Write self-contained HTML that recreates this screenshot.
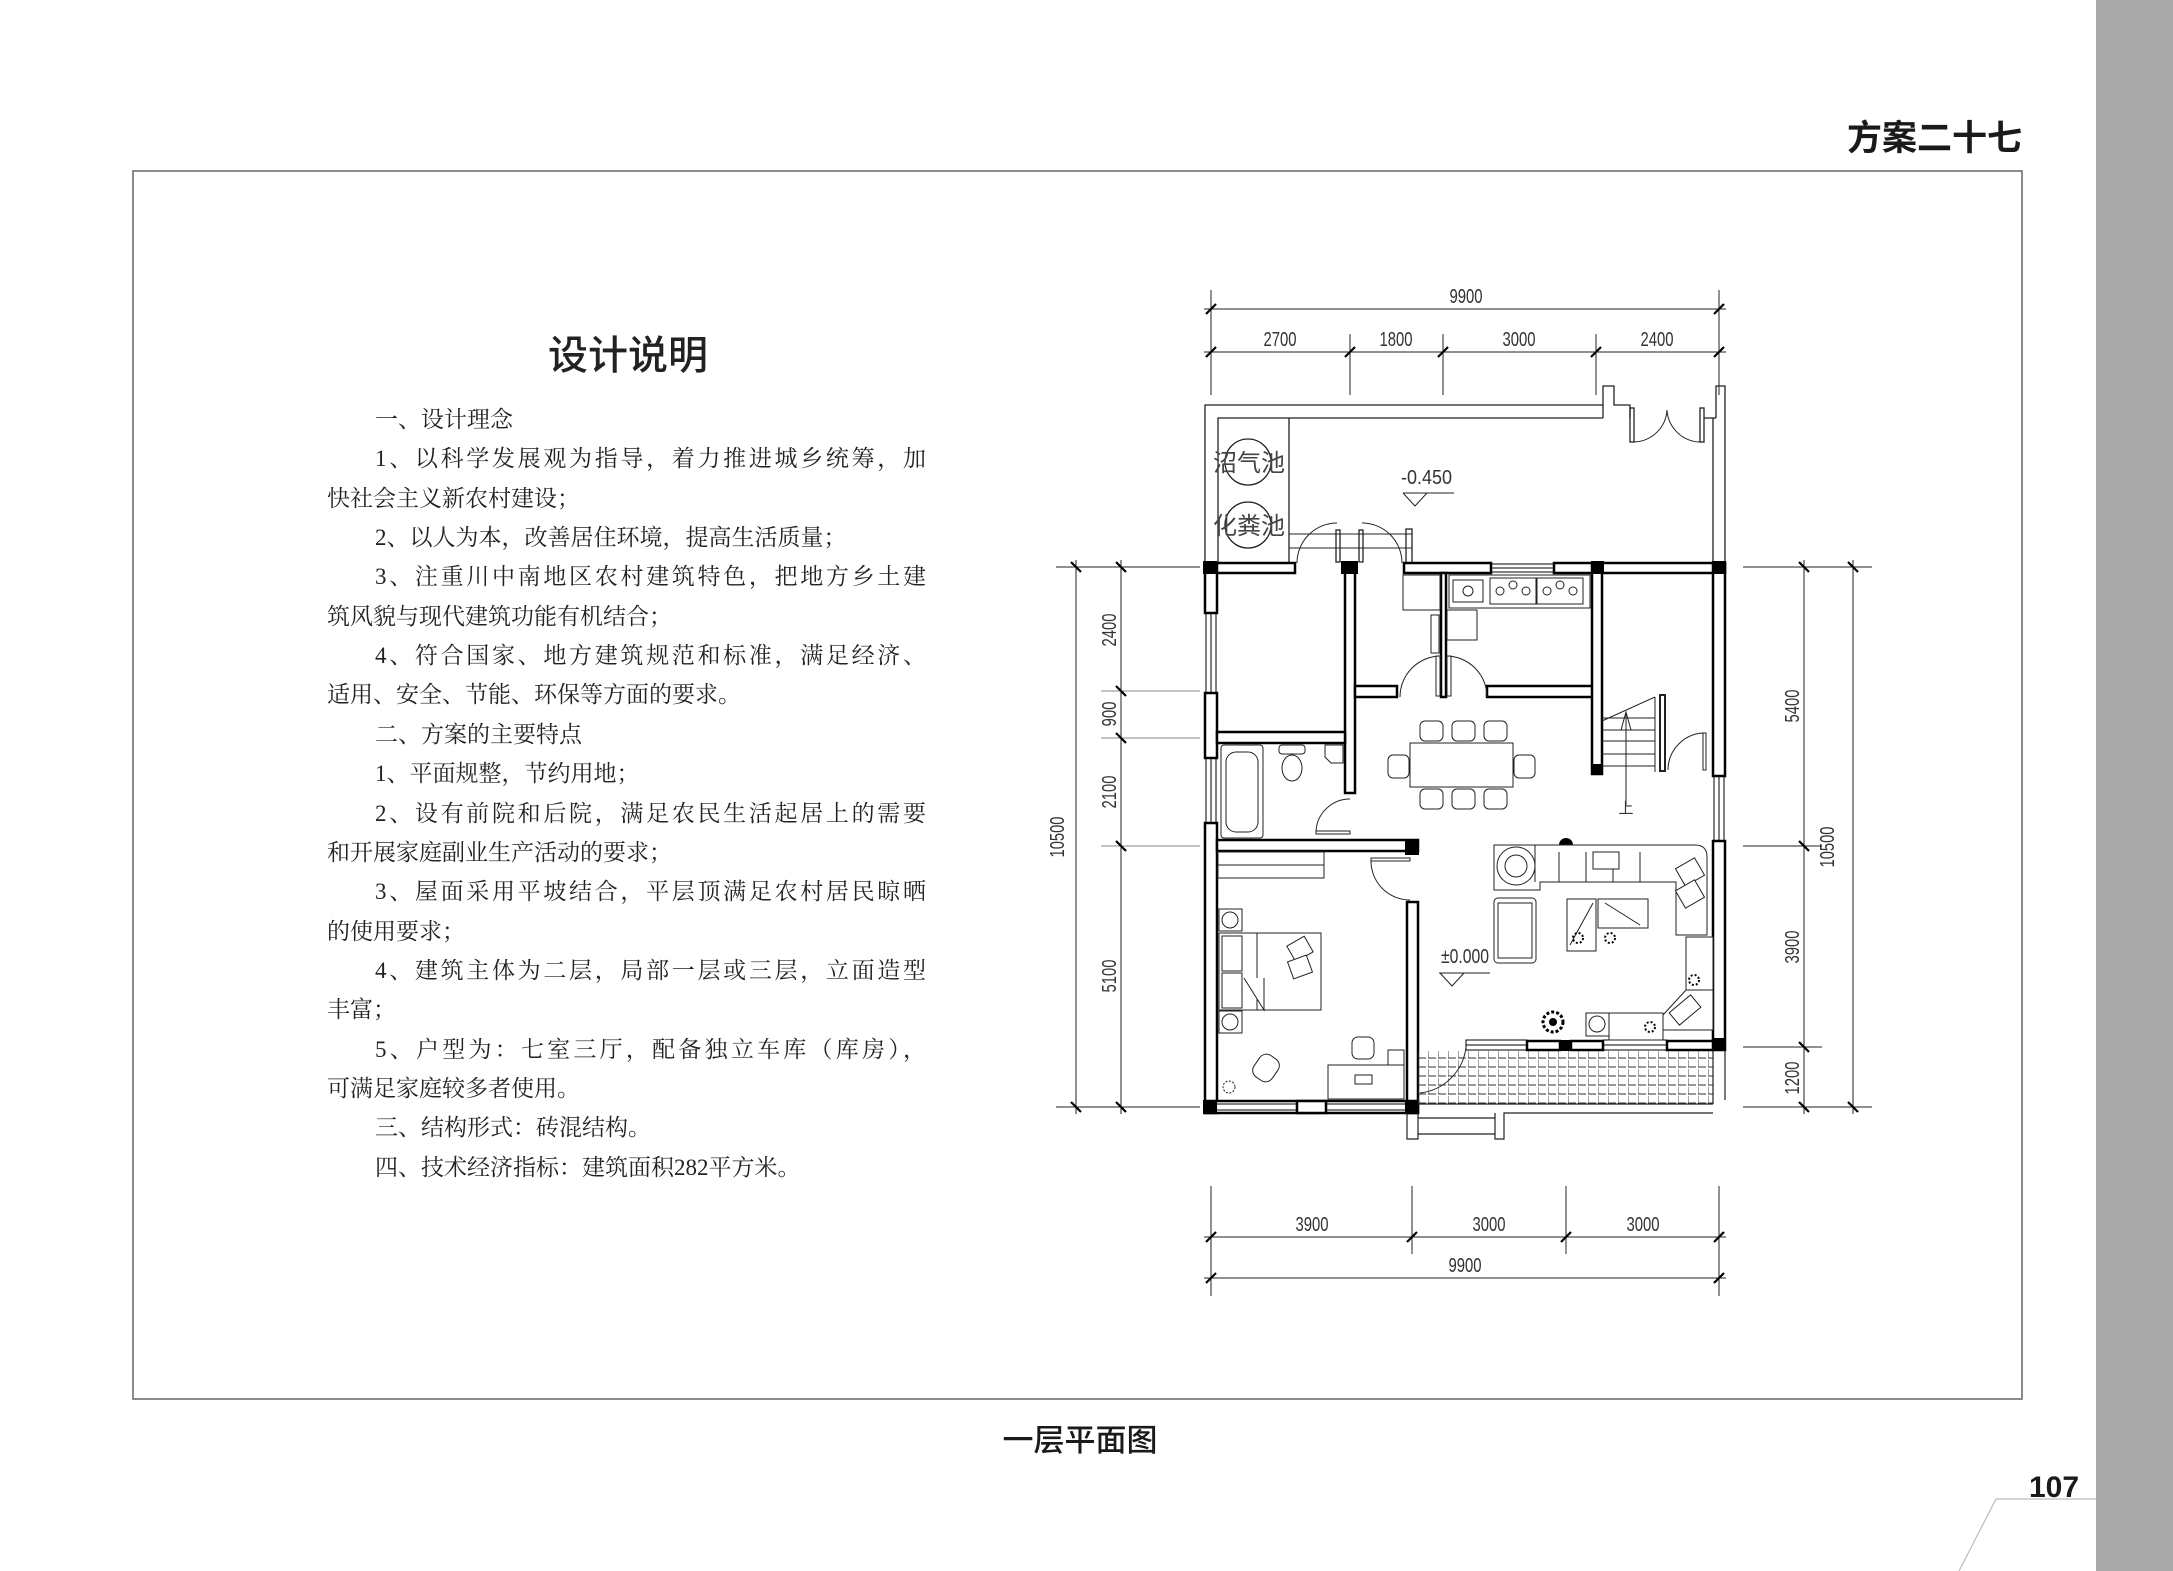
<!DOCTYPE html>
<html><head><meta charset="utf-8"><style>
html,body{margin:0;padding:0;background:#fff;}
svg{display:block;}
.d{font-family:"Liberation Sans Narrow","Liberation Sans",sans-serif;font-size:20px;fill:#333;}
.b{font-family:"Liberation Serif","Noto Serif CJK SC",serif;font-size:23px;fill:#222;}
</style></head><body>
<svg width="2173" height="1571" viewBox="0 0 2173 1571" xmlns="http://www.w3.org/2000/svg">
<rect x="0" y="0" width="2173" height="1571" fill="#fff"/>
<rect x="2096" y="0" width="77" height="1571" fill="#aaaaaa"/>
<rect x="133" y="171" width="1889" height="1228" fill="none" stroke="#666" stroke-width="1.5"/>
<text x="2022" y="150" text-anchor="end" font-family="'Liberation Sans','Noto Sans CJK SC',sans-serif" font-weight="bold" font-size="35" fill="#1a1a1a">方案二十七</text>
<text x="1080" y="1451" text-anchor="middle" font-family="'Liberation Sans','Noto Sans CJK SC',sans-serif" font-weight="500" font-size="31" fill="#1a1a1a">一层平面图</text>
<text x="2054" y="1497" text-anchor="middle" font-family="'Liberation Sans',sans-serif" font-weight="bold" font-size="30" fill="#1a1a1a">107</text>
<polyline points="2096,1499 1996,1499 1959,1571" fill="none" stroke="#bbb" stroke-width="1.2"/>

<!-- Description -->
<text x="628" y="369" text-anchor="middle" font-family="'Liberation Sans','Noto Sans CJK SC',sans-serif" font-weight="500" font-size="40" fill="#222">设计说明</text>
<g class="b">
<text x="375" y="427">一、设计理念</text>
<text x="375" y="466" textLength="551" lengthAdjust="spacing">1、以科学发展观为指导，着力推进城乡统筹，加</text>
<text x="327" y="506">快社会主义新农村建设；</text>
<text x="375" y="545">2、以人为本，改善居住环境，提高生活质量；</text>
<text x="375" y="584" textLength="551" lengthAdjust="spacing">3、注重川中南地区农村建筑特色，把地方乡土建</text>
<text x="327" y="624">筑风貌与现代建筑功能有机结合；</text>
<text x="375" y="663" textLength="551" lengthAdjust="spacing">4、符合国家、地方建筑规范和标准，满足经济、</text>
<text x="327" y="702">适用、安全、节能、环保等方面的要求。</text>
<text x="375" y="742">二、方案的主要特点</text>
<text x="375" y="781">1、平面规整，节约用地；</text>
<text x="375" y="821" textLength="551" lengthAdjust="spacing">2、设有前院和后院，满足农民生活起居上的需要</text>
<text x="327" y="860">和开展家庭副业生产活动的要求；</text>
<text x="375" y="899" textLength="551" lengthAdjust="spacing">3、屋面采用平坡结合，平层顶满足农村居民晾晒</text>
<text x="327" y="939">的使用要求；</text>
<text x="375" y="978" textLength="551" lengthAdjust="spacing">4、建筑主体为二层，局部一层或三层，立面造型</text>
<text x="327" y="1017">丰富；</text>
<text x="375" y="1057" textLength="551" lengthAdjust="spacing">5、户型为：七室三厅，配备独立车库（库房），</text>
<text x="327" y="1096">可满足家庭较多者使用。</text>
<text x="375" y="1135">三、结构形式：砖混结构。</text>
<text x="375" y="1175">四、技术经济指标：建筑面积282平方米。</text>
</g>

<!-- Dimensions -->
<g stroke="#222" stroke-width="1" fill="none">
 <line x1="1211" y1="290" x2="1211" y2="395"/><line x1="1719" y1="290" x2="1719" y2="395"/>
 <line x1="1350" y1="334" x2="1350" y2="395"/><line x1="1443" y1="334" x2="1443" y2="395"/><line x1="1596" y1="334" x2="1596" y2="395"/>
 <line x1="1204" y1="309" x2="1726" y2="309"/><line x1="1204" y1="352" x2="1726" y2="352"/>
 <line x1="1211" y1="1186" x2="1211" y2="1296"/><line x1="1719" y1="1186" x2="1719" y2="1296"/>
 <line x1="1412" y1="1186" x2="1412" y2="1254"/><line x1="1566" y1="1186" x2="1566" y2="1254"/>
 <line x1="1204" y1="1237" x2="1726" y2="1237"/><line x1="1204" y1="1278" x2="1726" y2="1278"/>
 <line x1="1056" y1="567" x2="1200" y2="567"/><line x1="1056" y1="1107" x2="1200" y2="1107"/>
 <line x1="1101" y1="691" x2="1200" y2="691" stroke="#888"/><line x1="1101" y1="738" x2="1200" y2="738" stroke="#888"/><line x1="1101" y1="846" x2="1200" y2="846" stroke="#888"/>
 <line x1="1076" y1="560" x2="1076" y2="1114"/><line x1="1121" y1="560" x2="1121" y2="1114"/>
 <line x1="1743" y1="567" x2="1872" y2="567"/><line x1="1743" y1="1107" x2="1872" y2="1107"/>
 <line x1="1743" y1="846" x2="1822" y2="846"/><line x1="1743" y1="1047" x2="1822" y2="1047"/>
 <line x1="1804" y1="560" x2="1804" y2="1114"/><line x1="1853" y1="560" x2="1853" y2="1114"/>
</g>
<g stroke="#000" stroke-width="2.2">
 <line x1="1206" y1="314" x2="1216" y2="304"/><line x1="1714" y1="314" x2="1724" y2="304"/>
 <line x1="1206" y1="357" x2="1216" y2="347"/><line x1="1345" y1="357" x2="1355" y2="347"/><line x1="1438" y1="357" x2="1448" y2="347"/><line x1="1591" y1="357" x2="1601" y2="347"/><line x1="1714" y1="357" x2="1724" y2="347"/>
 <line x1="1206" y1="1242" x2="1216" y2="1232"/><line x1="1407" y1="1242" x2="1417" y2="1232"/><line x1="1561" y1="1242" x2="1571" y2="1232"/><line x1="1714" y1="1242" x2="1724" y2="1232"/>
 <line x1="1206" y1="1283" x2="1216" y2="1273"/><line x1="1714" y1="1283" x2="1724" y2="1273"/>
 <line x1="1071" y1="562" x2="1081" y2="572"/><line x1="1071" y1="1102" x2="1081" y2="1112"/>
 <line x1="1116" y1="562" x2="1126" y2="572"/><line x1="1116" y1="686" x2="1126" y2="696"/><line x1="1116" y1="733" x2="1126" y2="743"/><line x1="1116" y1="841" x2="1126" y2="851"/><line x1="1116" y1="1102" x2="1126" y2="1112"/>
 <line x1="1799" y1="562" x2="1809" y2="572"/><line x1="1799" y1="841" x2="1809" y2="851"/><line x1="1799" y1="1042" x2="1809" y2="1052"/><line x1="1799" y1="1102" x2="1809" y2="1112"/>
 <line x1="1848" y1="562" x2="1858" y2="572"/><line x1="1848" y1="1102" x2="1858" y2="1112"/>
</g>
<g class="d" text-anchor="middle" lengthAdjust="spacingAndGlyphs">
 <text x="1466" y="303" textLength="33" lengthAdjust="spacingAndGlyphs">9900</text>
 <text x="1280" y="346" textLength="33" lengthAdjust="spacingAndGlyphs">2700</text><text x="1396" y="346" textLength="33" lengthAdjust="spacingAndGlyphs">1800</text><text x="1519" y="346" textLength="33" lengthAdjust="spacingAndGlyphs">3000</text><text x="1657" y="346" textLength="33" lengthAdjust="spacingAndGlyphs">2400</text>
 <text x="1312" y="1231" textLength="33" lengthAdjust="spacingAndGlyphs">3900</text><text x="1489" y="1231" textLength="33" lengthAdjust="spacingAndGlyphs">3000</text><text x="1643" y="1231" textLength="33" lengthAdjust="spacingAndGlyphs">3000</text><text x="1465" y="1272" textLength="33" lengthAdjust="spacingAndGlyphs">9900</text>
 <text transform="translate(1064,837) rotate(-90)" textLength="41" lengthAdjust="spacingAndGlyphs">10500</text>
 <text transform="translate(1116,630) rotate(-90)" textLength="33" lengthAdjust="spacingAndGlyphs">2400</text>
 <text transform="translate(1116,714) rotate(-90)" textLength="25" lengthAdjust="spacingAndGlyphs">900</text>
 <text transform="translate(1116,792) rotate(-90)" textLength="33" lengthAdjust="spacingAndGlyphs">2100</text>
 <text transform="translate(1116,976) rotate(-90)" textLength="33" lengthAdjust="spacingAndGlyphs">5100</text>
 <text transform="translate(1799,706) rotate(-90)" textLength="33" lengthAdjust="spacingAndGlyphs">5400</text>
 <text transform="translate(1834,847) rotate(-90)" textLength="41" lengthAdjust="spacingAndGlyphs">10500</text>
 <text transform="translate(1799,947) rotate(-90)" textLength="33" lengthAdjust="spacingAndGlyphs">3900</text>
 <text transform="translate(1799,1078) rotate(-90)" textLength="33" lengthAdjust="spacingAndGlyphs">1200</text>
</g>

<!-- Yard -->
<g stroke="#222" stroke-width="1.3" fill="none">
 <polyline points="1205,563 1205,405 1603,405"/>
 <polyline points="1218,563 1218,418 1603,418"/>
 <polyline points="1603,418 1603,386 1614,386 1614,405 1630,405 1630,418"/>
 <polyline points="1716,418 1716,386 1725,386 1725,563"/>
 <line x1="1704" y1="418" x2="1716" y2="418"/>
 <line x1="1713" y1="418" x2="1713" y2="563"/>
 <line x1="1289" y1="418" x2="1289" y2="563"/>
 <rect x="1630" y="408" width="4" height="34"/><rect x="1700" y="408" width="4" height="34"/>
 <path d="M1634,442 A34,34 0 0 0 1667,410" stroke-width="1"/>
 <path d="M1700,442 A34,34 0 0 1 1667,410" stroke-width="1"/>
 <circle cx="1248" cy="462" r="23"/><circle cx="1248" cy="525" r="23"/>
 <line x1="1289" y1="534" x2="1412" y2="534" stroke-width="1"/><line x1="1289" y1="548" x2="1412" y2="548" stroke-width="1"/>
 <rect x="1406" y="529" width="6" height="34"/>
 <rect x="1336" y="530" width="4" height="32"/><rect x="1359" y="530" width="4" height="32"/>
 <path d="M1297,563 A40,40 0 0 1 1337,523" stroke-width="1"/>
 <path d="M1402,563 A40,40 0 0 0 1362,523" stroke-width="1"/>
 <line x1="1403" y1="493" x2="1454" y2="493" stroke-width="1"/>
 <polyline points="1403,493 1415,506 1427,493" stroke-width="1"/>
</g>
<g font-family="'Liberation Sans','Noto Sans CJK SC',sans-serif" font-size="24" fill="#444" text-anchor="middle">
 <text x="1249" y="471">沼气池</text><text x="1249" y="534">化粪池</text>
</g>
<text x="1401" y="484" class="d" textLength="51" lengthAdjust="spacingAndGlyphs">-0.450</text>

<!-- Walls -->
<g fill="#fff" stroke="#000" stroke-width="2.5">
 <rect x="1205" y="563" width="90" height="10"/>
 <rect x="1404" y="563" width="87" height="10"/>
 <rect x="1554" y="563" width="171" height="10"/>
 <rect x="1205" y="563" width="12" height="50"/>
 <rect x="1205" y="693" width="12" height="65"/>
 <rect x="1205" y="823" width="12" height="290"/>
 <rect x="1345" y="563" width="10" height="230"/>
 <rect x="1217" y="732" width="128" height="11"/>
 <rect x="1217" y="840" width="201" height="11"/>
 <rect x="1407" y="902" width="11" height="211"/>
 <rect x="1205" y="1101" width="213" height="12"/>
 <rect x="1441" y="573" width="5" height="124"/>
 <rect x="1355" y="686" width="42" height="11"/>
 <rect x="1487" y="686" width="111" height="11"/>
 <rect x="1592" y="563" width="10" height="211"/>
 <rect x="1713" y="563" width="12" height="213"/>
 <rect x="1713" y="841" width="12" height="209"/>
</g>
<g fill="none" stroke="#000" stroke-width="1">
 <rect x="1491" y="564" width="63" height="8"/><line x1="1491" y1="568" x2="1554" y2="568"/>
 <rect x="1206" y="613" width="10" height="80"/><line x1="1211" y1="613" x2="1211" y2="693"/>
 <rect x="1206" y="758" width="10" height="65"/><line x1="1211" y1="758" x2="1211" y2="823"/>
 <rect x="1714" y="776" width="10" height="65"/><line x1="1719" y1="776" x2="1719" y2="841"/>
 <line x1="1217" y1="1104" x2="1407" y2="1104"/><line x1="1217" y1="1110" x2="1407" y2="1110"/>
</g>
<g fill="#fff" stroke="#000" stroke-width="2.5">
 <rect x="1297" y="1101" width="29" height="12"/>
</g>
<g fill="#000">
 <rect x="1203" y="561" width="14" height="13"/>
 <rect x="1341" y="561" width="17" height="13"/>
 <rect x="1591" y="561" width="13" height="13"/>
 <rect x="1712" y="561" width="14" height="13"/>
 <rect x="1591" y="764" width="12" height="11"/>
 <rect x="1405" y="839" width="14" height="16"/>
 <rect x="1203" y="1100" width="14" height="14"/>
 <rect x="1405" y="1100" width="14" height="14"/>
 <rect x="1712" y="1038" width="14" height="13"/>
 <rect x="1560" y="1040" width="11" height="11"/>
 <circle cx="1566" cy="845" r="7"/>
</g>
<g fill="#fff" stroke="#000" stroke-width="1">
 <rect x="1466" y="1040" width="61" height="10"/><line x1="1466" y1="1045" x2="1527" y2="1045"/>
 <rect x="1603" y="1040" width="64" height="10"/><line x1="1603" y1="1045" x2="1667" y2="1045"/>
</g>
<g fill="#fff" stroke="#000" stroke-width="2.5">
 <rect x="1527" y="1041" width="33" height="9"/>
 <rect x="1571" y="1041" width="32" height="9"/>
 <rect x="1667" y="1041" width="46" height="9"/>
</g>
<defs>
 <pattern id="tile" x="1418" y="1051" width="10" height="9" patternUnits="userSpaceOnUse">
  <path d="M0,0 V7 H8" fill="none" stroke="#333" stroke-width="0.9"/>
 </pattern>
</defs>
<rect x="1418" y="1051" width="295" height="53" fill="url(#tile)"/>
<g stroke="#222" stroke-width="1.2" fill="none">
 <line x1="1713" y1="1050" x2="1713" y2="1104"/>
 <line x1="1725" y1="1050" x2="1725" y2="1100"/>
 <line x1="1418" y1="1104" x2="1713" y2="1104"/>
 <polyline points="1418,1113 1418,1139 1407,1139 1407,1113"/>
 <polyline points="1495,1113 1495,1139 1504,1139 1504,1113 1713,1113"/>
 <line x1="1418" y1="1118" x2="1495" y2="1118"/><line x1="1418" y1="1134" x2="1495" y2="1134"/>
 <path d="M1420,1093 A52,52 0 0 0 1466,1047" stroke-width="1"/>
</g>

<g fill="none" stroke="#222" stroke-width="1">
 <path d="M1400,697 A41,41 0 0 1 1441,656"/><rect x="1436" y="656" width="4" height="40"/>
 <path d="M1487,697 A41,41 0 0 0 1446,656"/><rect x="1447" y="656" width="4" height="40"/>
 <path d="M1316,833 A34,34 0 0 1 1350,799"/><rect x="1316" y="831" width="34" height="3"/>
 <path d="M1371,860 A39,39 0 0 0 1410,900"/><rect x="1371" y="858" width="39" height="3"/>
 <path d="M1668,770 A37,37 0 0 1 1705,733"/><rect x="1703" y="733" width="3" height="37"/>
</g>

<g fill="#fff" stroke="#222" stroke-width="1">
 <rect x="1403" y="575" width="37" height="35"/>
 <rect x="1449" y="575" width="141" height="33"/>
 <rect x="1453" y="580" width="30" height="22"/><circle cx="1468" cy="591" r="5"/>
 <rect x="1490" y="578" width="46" height="26"/><rect x="1537" y="578" width="46" height="26"/>
 <circle cx="1500" cy="591" r="4"/><circle cx="1513" cy="585" r="4"/><circle cx="1526" cy="591" r="4"/>
 <circle cx="1547" cy="591" r="4"/><circle cx="1560" cy="585" r="4"/><circle cx="1573" cy="591" r="4"/>
 <rect x="1447" y="610" width="30" height="30"/>
 <rect x="1431" y="615" width="8" height="38"/>
</g>

<g fill="none" stroke="#222" stroke-width="1">
 <line x1="1602" y1="718" x2="1655" y2="718"/><line x1="1602" y1="730" x2="1655" y2="730"/>
 <line x1="1602" y1="741" x2="1655" y2="741"/><line x1="1602" y1="754" x2="1655" y2="754"/>
 <line x1="1602" y1="766" x2="1655" y2="766"/>
 <line x1="1602" y1="721" x2="1655" y2="697"/>
 <line x1="1655" y1="697" x2="1655" y2="772"/>
 <rect x="1660" y="695" width="5" height="76" fill="#fff" stroke-width="2"/>
 <line x1="1626" y1="805" x2="1626" y2="714"/>
 <polyline points="1621,730 1626,712 1631,730"/>
</g>
<text x="1626" y="813" text-anchor="middle" font-family="'Liberation Sans','Noto Sans CJK SC',sans-serif" font-size="15" fill="#333">上</text>

<g fill="#fff" stroke="#222" stroke-width="1">
 <rect x="1410" y="743" width="103" height="44"/>
 <rect x="1420" y="721" width="23" height="20" rx="5"/><rect x="1452" y="721" width="23" height="20" rx="5"/><rect x="1484" y="721" width="23" height="20" rx="5"/>
 <rect x="1420" y="789" width="23" height="20" rx="5"/><rect x="1452" y="789" width="23" height="20" rx="5"/><rect x="1484" y="789" width="23" height="20" rx="5"/>
 <rect x="1388" y="755" width="21" height="23" rx="5"/><rect x="1514" y="755" width="21" height="23" rx="5"/>
</g>

<g fill="#fff" stroke="#222" stroke-width="1">
 <rect x="1221" y="745" width="42" height="93" rx="3"/>
 <rect x="1226" y="752" width="32" height="80" rx="10"/>
 <rect x="1279" y="745" width="26" height="9" rx="3"/>
 <ellipse cx="1292" cy="768" rx="10" ry="13"/>
 <path d="M1325,745 H1343 V763 H1331 L1325,757 Z"/>
</g>

<g fill="#fff" stroke="#222" stroke-width="1">
 <rect x="1218" y="852" width="106" height="26"/>
 <line x1="1218" y1="865" x2="1324" y2="865"/>
 <rect x="1219" y="909" width="23" height="22"/><circle cx="1230" cy="920" r="8"/>
 <rect x="1219" y="1011" width="23" height="22"/><circle cx="1230" cy="1022" r="8"/>
 <rect x="1219" y="933" width="102" height="77"/>
 <rect x="1222" y="936" width="20" height="35"/><rect x="1222" y="973" width="20" height="35"/>
 <line x1="1257" y1="933" x2="1257" y2="1010"/>
 <polyline points="1244,978 1264,1010 1264,978"/>
 <rect x="1290" y="940" width="20" height="18" transform="rotate(-30 1300 949)"/>
 <rect x="1290" y="958" width="20" height="18" transform="rotate(-20 1300 967)"/>
 <rect x="1328" y="1065" width="76" height="34"/>
 <rect x="1388" y="1050" width="16" height="15"/>
 <rect x="1352" y="1037" width="22" height="22" rx="6"/>
 <rect x="1255" y="1055" width="22" height="26" rx="8" transform="rotate(35 1266 1068)"/>
 <rect x="1355" y="1075" width="17" height="9"/>
 <circle cx="1229" cy="1087" r="6" stroke-dasharray="2 1.5"/>
</g>

<g fill="#fff" stroke="#222" stroke-width="1">
 <path d="M1494,845 H1695 Q1707,845 1707,857 V935 H1676 V882 H1540 V890 H1494 Z"/>
 <line x1="1535" y1="845" x2="1535" y2="882"/>
 <line x1="1559" y1="852" x2="1559" y2="882"/><line x1="1586" y1="852" x2="1586" y2="882"/>
 <line x1="1613" y1="852" x2="1613" y2="882"/><line x1="1640" y1="852" x2="1640" y2="882"/>
 <circle cx="1516" cy="866" r="19"/><circle cx="1516" cy="866" r="11"/>
 <rect x="1593" y="852" width="26" height="17"/>
 <rect x="1679" y="862" width="22" height="20" transform="rotate(-30 1690 872)"/>
 <rect x="1679" y="884" width="22" height="20" transform="rotate(-30 1690 894)"/>
 <rect x="1494" y="898" width="42" height="65" rx="4"/>
 <rect x="1498" y="903" width="34" height="55"/>
 <rect x="1567" y="899" width="29" height="52"/>
 <rect x="1598" y="899" width="50" height="29"/>
 <line x1="1570" y1="945" x2="1593" y2="903"/><line x1="1605" y1="903" x2="1640" y2="925"/>
 <rect x="1686" y="937" width="27" height="53"/>
 <path d="M1713,990 H1686 L1663,1015 V1030 H1713 Z"/>
 <rect x="1671" y="1002" width="28" height="16" transform="rotate(-40 1685 1010)"/>
 <rect x="1586" y="1013" width="23" height="23"/><circle cx="1597" cy="1024" r="8"/>
 <rect x="1609" y="1013" width="54" height="27"/>
</g>
<g fill="#000">
 <circle cx="1553" cy="1022" r="10" fill="none" stroke="#000" stroke-width="3" stroke-dasharray="3 2"/>
 <circle cx="1553" cy="1022" r="4"/>
 <circle cx="1694" cy="980" r="5" fill="none" stroke="#000" stroke-width="2" stroke-dasharray="2 2"/>
 <circle cx="1650" cy="1027" r="5" fill="none" stroke="#000" stroke-width="2" stroke-dasharray="2 2"/>
 <circle cx="1610" cy="938" r="5" fill="none" stroke="#000" stroke-width="2" stroke-dasharray="2 2"/>
 <circle cx="1578" cy="938" r="5" fill="none" stroke="#000" stroke-width="2" stroke-dasharray="2 2"/>
</g>
<text x="1441" y="963" class="d" textLength="48" lengthAdjust="spacingAndGlyphs">±0.000</text>
<g fill="none" stroke="#222" stroke-width="1">
 <line x1="1439" y1="973" x2="1490" y2="973"/>
 <polyline points="1440,973 1452,986 1464,973"/>
</g>
</svg>
</body></html>
